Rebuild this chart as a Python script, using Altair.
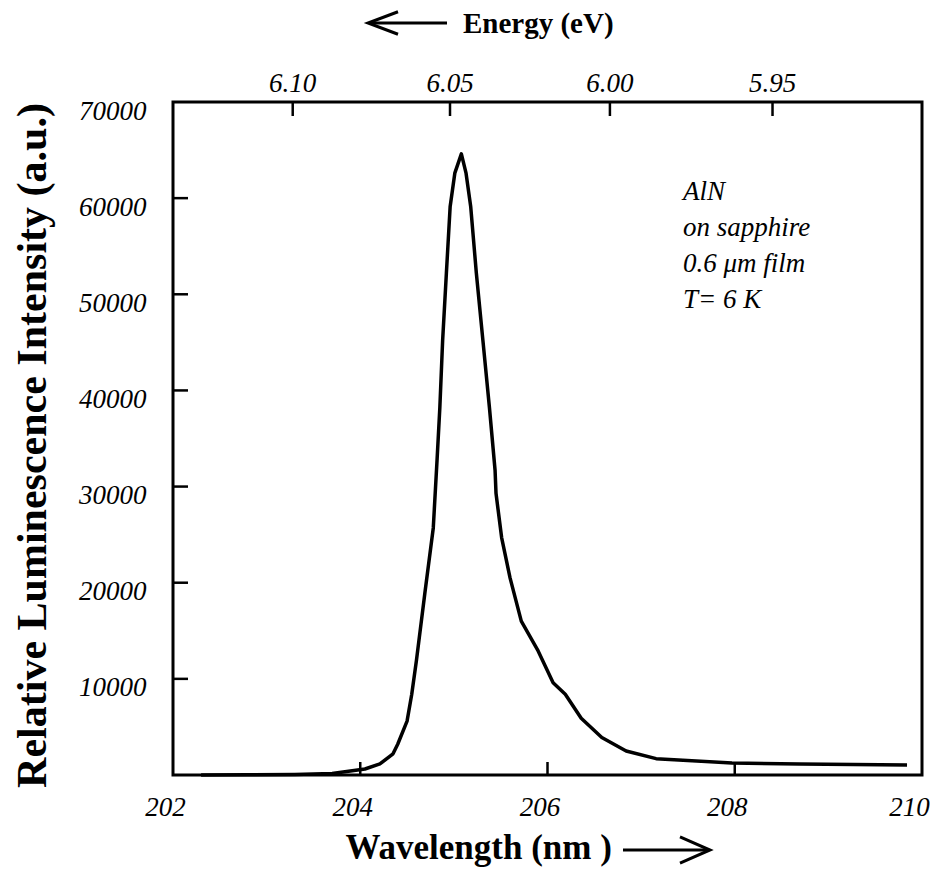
import altair as alt
import pandas as pd

# ---- data ----
wavelength_nm = [202.3, 202.8, 203.3, 203.7, 204.05, 204.21, 204.35, 204.40, 204.50,
                 204.55, 204.60, 204.69, 204.78, 204.82, 204.85, 204.88, 204.92, 204.96,
                 205.01, 205.08, 205.13, 205.18, 205.24, 205.31, 205.38, 205.44, 205.45,
                 205.51, 205.60, 205.72, 205.90, 206.06, 206.19, 206.36, 206.58, 206.84,
                 207.16, 207.97, 208.69, 209.84]
intensity = [0, 20, 60, 150, 625, 1150, 2200, 3200, 5600,
             8400, 11900, 18900, 25700, 32700, 38200, 45200, 52200, 59100,
             62600, 64600, 62600, 59100, 52200, 45200, 38200, 31700, 29300,
             24700, 20500, 16000, 12900, 9600, 8400, 5900, 3900, 2500,
             1700, 1250, 1150, 1050]

x_ticks = [202, 204, 206, 208, 210]
x_inner_ticks = [204, 206, 208]
y_ticks = [10000, 20000, 30000, 40000, 50000, 60000, 70000]
y_inner_ticks = [10000, 20000, 30000, 40000, 50000, 60000]
energy_ticks_ev = [6.10, 6.05, 6.00, 5.95]
energy_labels = ["6.10", "6.05", "6.00", "5.95"]
HC_EV_NM = 1240.0
sample_lines = ["AlN", "on sapphire", "0.6 \u03bcm film", "T= 6 K"]

# ---- layout ----
W, H = 749, 673
SERIF = "Liberation Serif"

x_scale = alt.Scale(domain=[202, 210], nice=False, zero=False)
y_scale = alt.Scale(domain=[0, 70000], nice=False, zero=False)

x_axis = alt.Axis(
    values=x_ticks, format="d", ticks=False, tickSize=0, domain=False, grid=False,
    labelFont=SERIF, labelFontStyle="italic", labelFontSize=27, labelColor="black",
    labelPadding=19,
    labelOffset={"condition": {"test": "datum.value === 210", "value": -13}, "value": -8},
    labelFlush=False, labelOverlap=False, labelBound=False,
    title="Wavelength (nm )", titleFont=SERIF, titleFontWeight="bold", titleFontSize=35,
    titleColor="black", titleX=172, titleY=83, titleAlign="left", titleBaseline="alphabetic")
y_axis = alt.Axis(
    values=y_ticks, format="d", ticks=False, tickSize=0, domain=False, grid=False,
    labelFont=SERIF, labelFontStyle="italic", labelFontSize=27, labelColor="black",
    labelPadding=27, labelOffset=9, labelFlush=False, labelOverlap=False, labelBound=False,
    title="Relative Luminescence Intensity (a.u.)", titleFont=SERIF, titleFontWeight="bold",
    titleFontSize=42, titleColor="black", titleAngle=270, titleX=-128, titleY=343,
    titleAlign="center", titleBaseline="alphabetic")

spec_df = pd.DataFrame({"wl": wavelength_nm, "I": intensity})
one = pd.DataFrame({"k": [0]})

curve = alt.Chart(spec_df).mark_line(color="black", strokeWidth=3.5, strokeJoin="round").encode(
    x=alt.X("wl:Q", scale=x_scale, axis=x_axis),
    y=alt.Y("I:Q", scale=y_scale, axis=y_axis),
)

bottom_ticks = alt.Chart(pd.DataFrame({"t": x_inner_ticks})).mark_rule(
    color="black", strokeWidth=2.5).encode(
    x=alt.X("t:Q", scale=x_scale, axis=x_axis), y=alt.value(H), y2=alt.value(H - 13))

left_ticks = alt.Chart(pd.DataFrame({"t": y_inner_ticks})).mark_rule(
    color="black", strokeWidth=2.5).encode(
    y=alt.Y("t:Q", scale=y_scale, axis=y_axis), x=alt.value(0), x2=alt.value(15))

energy_df = pd.DataFrame({"E": energy_ticks_ev, "label": energy_labels})
energy_base = alt.Chart(energy_df).transform_calculate(lam=f"{HC_EV_NM} / datum.E")
top_ticks = energy_base.mark_rule(color="black", strokeWidth=2.5).encode(
    x=alt.X("lam:Q", scale=x_scale, axis=x_axis), y=alt.value(0), y2=alt.value(14))
top_labels = energy_base.mark_text(
    font=SERIF, fontStyle="italic", fontSize=27, baseline="alphabetic", align="center",
    color="black").encode(
    x=alt.X("lam:Q", scale=x_scale, axis=x_axis), y=alt.value(-10), text="label:N")

energy_title = alt.Chart(one).mark_text(
    text="Energy (eV)", font=SERIF, fontWeight="bold", fontSize=29, align="left",
    baseline="alphabetic", color="black").encode(x=alt.value(290), y=alt.value(-69))
top_shaft = alt.Chart(one).mark_rule(color="black", strokeWidth=3).encode(
    x=alt.value(197), x2=alt.value(274), y=alt.value(-79))
top_head = alt.Chart(one).mark_point(
    shape="M1,-0.75L-1,0L1,0.75", filled=False, stroke="black", strokeWidth=3,
    size=900, opacity=1, strokeJoin="miter").encode(x=alt.value(210), y=alt.value(-79))

bottom_shaft = alt.Chart(one).mark_rule(color="black", strokeWidth=3).encode(
    x=alt.value(450), x2=alt.value(535), y=alt.value(748))
bottom_head = alt.Chart(one).mark_point(
    shape="M-1,-0.87L1,0L-1,0.87", filled=False, stroke="black", strokeWidth=3,
    size=900, opacity=1, strokeJoin="miter").encode(x=alt.value(522), y=alt.value(748))

note = alt.Chart(pd.DataFrame({"note": ["\n".join(sample_lines)]})).mark_text(
    font=SERIF, fontStyle="italic", fontSize=27, align="left", baseline="alphabetic",
    lineBreak="\n", lineHeight=36, color="black").encode(
    x=alt.value(510), y=alt.value(98), text="note:N")

chart = alt.layer(
    curve, bottom_ticks, left_ticks, top_ticks, top_labels,
    energy_title, top_shaft, top_head, bottom_shaft, bottom_head, note
).properties(
    width=W, height=H,
    autosize=alt.AutoSizeParams(type="none"),
    padding={"left": 165, "top": 94, "right": 8, "bottom": 95},
    background="white",
).configure_view(stroke="black", strokeWidth=3)

chart.save("out.html", embed_options={"renderer": "svg", "actions": False})
